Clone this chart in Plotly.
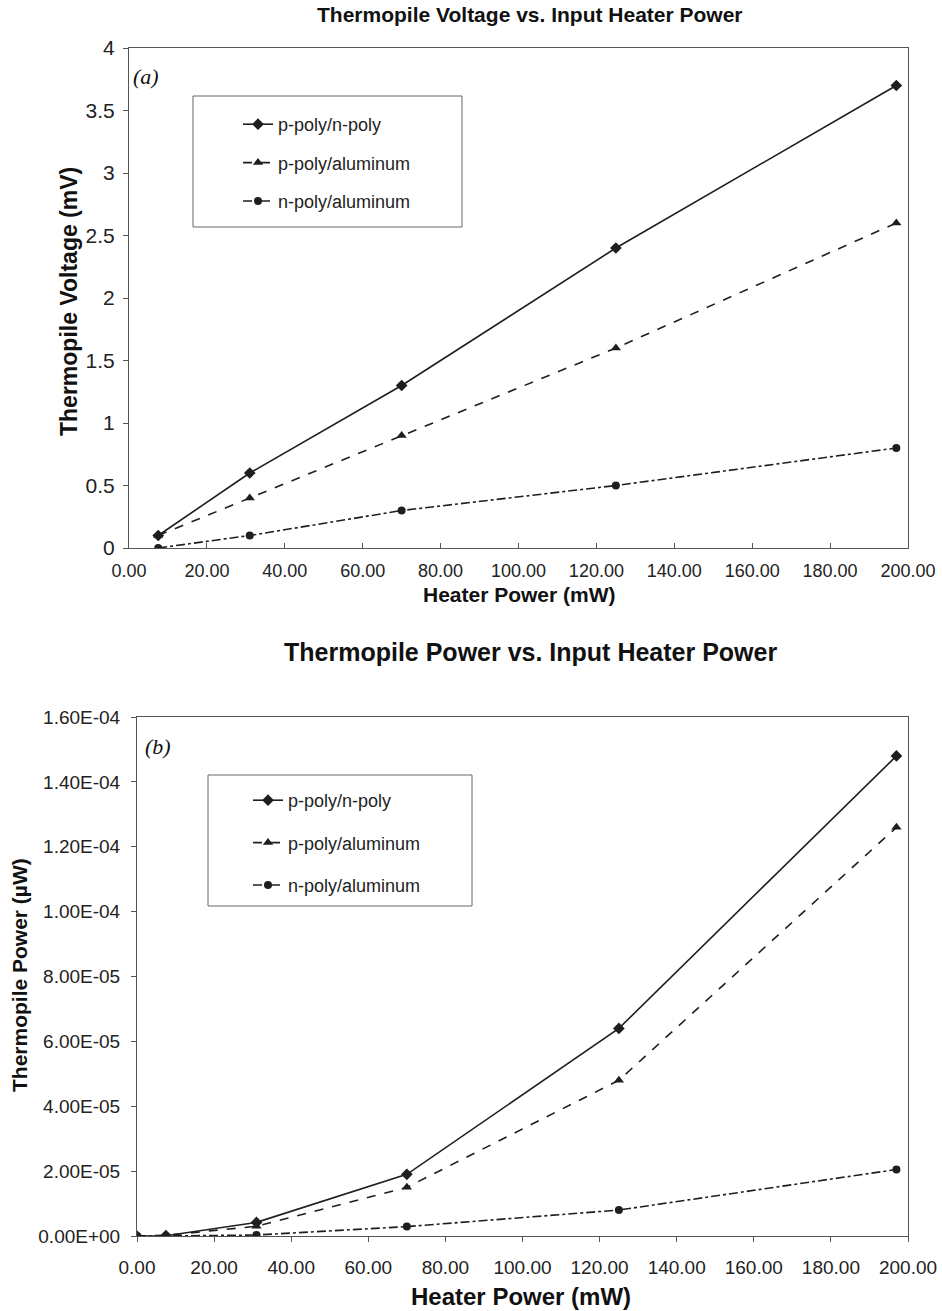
import plotly.graph_objects as go

# ---------------- data ----------------
series_names = ["p-poly/n-poly", "p-poly/aluminum", "n-poly/aluminum"]

heater_power_a = [7.5, 31, 70, 125, 197]
voltage_pn = [0.1, 0.6, 1.3, 2.4, 3.7]
voltage_pal = [0.1, 0.4, 0.9, 1.6, 2.6]
voltage_nal = [0.0, 0.1, 0.3, 0.5, 0.8]

heater_power_b = [0, 7.5, 31, 70, 125, 197]
power_pn = [0, 1e-7, 4.2e-6, 1.9e-5, 6.4e-5, 1.48e-4]
power_pal = [0, 2e-7, 3.0e-6, 1.5e-5, 4.8e-5, 1.26e-4]
power_nal = [0, 0, 3e-7, 2.9e-6, 8.0e-6, 2.05e-5]

x_ticks = [0, 20, 40, 60, 80, 100, 120, 140, 160, 180, 200]
power_ticks = [0, 2e-5, 4e-5, 6e-5, 8e-5, 1e-4, 1.2e-4, 1.4e-4, 1.6e-4]
power_tick_labels = ["0.00E+00", "2.00E-05", "4.00E-05", "6.00E-05", "8.00E-05",
                     "1.00E-04", "1.20E-04", "1.40E-04", "1.60E-04"]

# ---------------- styles ----------------
W, H = 942, 1311
INK = "#1e1e1e"
AX = "#555555"
SANS = "Liberation Sans, Arial, sans-serif"
SERIF = "Liberation Serif, Times New Roman, serif"

styles = [
    dict(dash="solid", symbol="diamond", size=9),
    dict(dash="dash", symbol="triangle-up", size=9),
    dict(dash="dashdot", symbol="circle", size=8),
]

def px_x(x):
    return x / W

def px_y(y):
    return 1 - y / H

fig = go.Figure()

for name, ys, st in zip(series_names, [voltage_pn, voltage_pal, voltage_nal], styles):
    fig.add_trace(go.Scatter(
        x=heater_power_a, y=ys, name=name, mode="lines+markers",
        xaxis="x", yaxis="y", legend="legend", legendgroup="a" + name,
        line=dict(color=INK, width=1.6, dash=st["dash"]),
        marker=dict(color=INK, symbol=st["symbol"], size=st["size"]),
    ))

for name, ys, st in zip(series_names, [power_pn, power_pal, power_nal], styles):
    fig.add_trace(go.Scatter(
        x=heater_power_b, y=ys, name=name, mode="lines+markers",
        xaxis="x2", yaxis="y2", legend="legend2", legendgroup="b" + name,
        line=dict(color=INK, width=1.6, dash=st["dash"]),
        marker=dict(color=INK, symbol=st["symbol"], size=st["size"]),
    ))

# plot areas (pixels)
ax_a = dict(l=129, r=908, t=48, b=548)
ax_b = dict(l=137, r=908, t=717, b=1236)

common_axis = dict(showgrid=False, zeroline=False, showline=True, linecolor=AX,
                   linewidth=1, mirror=True, ticks="outside", ticklen=5,
                   tickcolor=AX, automargin=False)

fig.update_layout(
    width=W, height=H,
    margin=dict(l=0, r=0, t=0, b=0),
    paper_bgcolor="white", plot_bgcolor="white",
    xaxis=dict(common_axis, domain=[px_x(ax_a["l"]), px_x(ax_a["r"])], anchor="y",
               range=[0, 200], tickvals=x_ticks, tickformat=".2f", ticks="inside",
               ticklabelstandoff=6,
               tickfont=dict(family=SANS, size=18, color="#222")),
    yaxis=dict(common_axis, domain=[px_y(ax_a["b"]), px_y(ax_a["t"])], anchor="x",
               range=[0, 4], dtick=0.5, ticklabelstandoff=4,
               tickfont=dict(family=SANS, size=21, color="#222")),
    xaxis2=dict(common_axis, domain=[px_x(ax_b["l"]), px_x(ax_b["r"])], anchor="y2",
                range=[0, 200], tickvals=x_ticks, tickformat=".2f",
                ticklabelstandoff=9,
                tickfont=dict(family=SANS, size=19, color="#222")),
    yaxis2=dict(common_axis, domain=[px_y(ax_b["b"]), px_y(ax_b["t"])], anchor="x2",
                range=[0, 1.6e-4], tickvals=power_ticks, ticktext=power_tick_labels,
                ticklabelstandoff=7,
                tickfont=dict(family=SANS, size=19, color="#222")),
    legend=dict(x=px_x(200), y=px_y(106), xanchor="left", yanchor="top",
                bgcolor="rgba(0,0,0,0)", borderwidth=0, indentation=38,
                tracegroupgap=12, font=dict(family=SANS, size=18, color="#222"),
                itemwidth=30),
    legend2=dict(x=px_x(214), y=px_y(782), xanchor="left", yanchor="top",
                 bgcolor="rgba(0,0,0,0)", borderwidth=0, indentation=34,
                 tracegroupgap=16, font=dict(family=SANS, size=18, color="#222"),
                 itemwidth=30),
    shapes=[
        dict(type="rect", xref="paper", yref="paper", layer="below",
             x0=px_x(193), x1=px_x(462), y0=px_y(227), y1=px_y(96),
             line=dict(color="#666", width=1), fillcolor="white"),
        dict(type="rect", xref="paper", yref="paper", layer="below",
             x0=px_x(208), x1=px_x(472), y0=px_y(906), y1=px_y(775),
             line=dict(color="#666", width=1), fillcolor="white"),
    ],
    annotations=[
        dict(text="<b>Thermopile Voltage vs. Input Heater Power</b>", xref="paper", yref="paper",
             x=px_x(530), y=px_y(15), showarrow=False, xanchor="center", yanchor="middle",
             font=dict(family=SANS, size=21, color="#111")),
        dict(text="<b>Heater Power (mW)</b>", xref="paper", yref="paper",
             x=px_x(519), y=px_y(594), showarrow=False, xanchor="center", yanchor="middle",
             font=dict(family=SANS, size=21, color="#111")),
        dict(text="<b>Thermopile Voltage (mV)</b>", xref="paper", yref="paper",
             x=px_x(69), y=px_y(302), showarrow=False, textangle=-90,
             xanchor="center", yanchor="middle",
             font=dict(family=SANS, size=23, color="#111")),
        dict(text="<i>(a)</i>", xref="paper", yref="paper",
             x=px_x(146), y=px_y(76), showarrow=False, xanchor="center", yanchor="middle",
             font=dict(family=SERIF, size=22, color="#111")),
        dict(text="<b>Thermopile Power vs. Input Heater Power</b>", xref="paper", yref="paper",
             x=px_x(530), y=px_y(652), showarrow=False, xanchor="center", yanchor="middle",
             font=dict(family=SANS, size=25, color="#111")),
        dict(text="<b>Heater Power (mW)</b>", xref="paper", yref="paper",
             x=px_x(521), y=px_y(1296), showarrow=False, xanchor="center", yanchor="middle",
             font=dict(family=SANS, size=24, color="#111")),
        dict(text="<b>Thermopile Power (µW)</b>", xref="paper", yref="paper",
             x=px_x(19), y=px_y(975), showarrow=False, textangle=-90,
             xanchor="center", yanchor="middle",
             font=dict(family=SANS, size=21, color="#111")),
        dict(text="<i>(b)</i>", xref="paper", yref="paper",
             x=px_x(158), y=px_y(746), showarrow=False, xanchor="center", yanchor="middle",
             font=dict(family=SERIF, size=22, color="#111")),
    ],
)

fig.write_html("out.html", config={"displayModeBar": False},
               post_script="document.body.style.margin='0px';")
